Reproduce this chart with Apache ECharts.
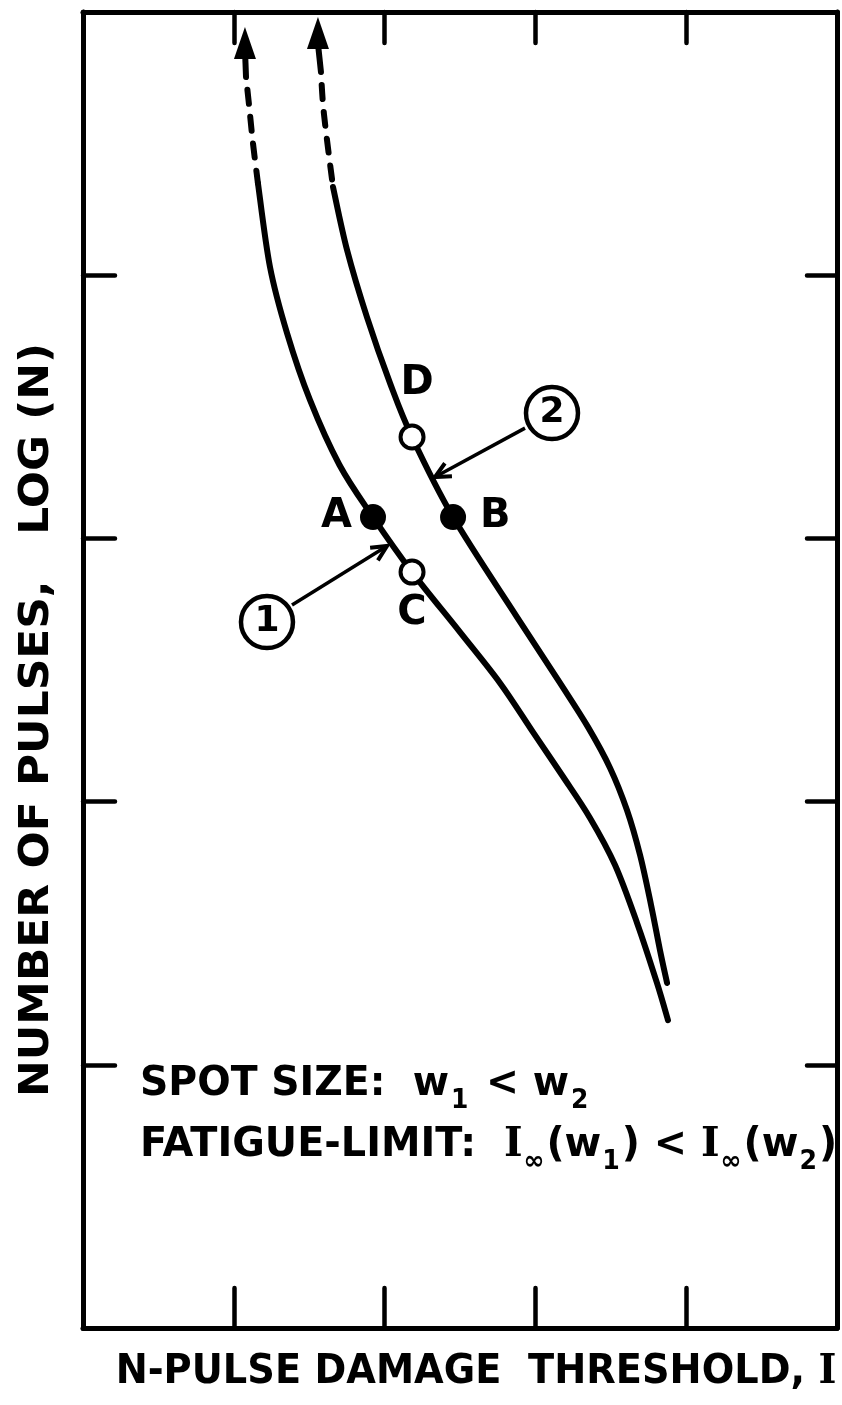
<!DOCTYPE html>
<html>
<head>
<meta charset="utf-8">
<script src="https://cdn.jsdelivr.net/npm/echarts@6/dist/echarts.min.js"></script>
<style>
  html, body { margin: 0; padding: 0; background: #fff; }
  #chart { width: 842px; height: 1405px; }
</style>
</head>
<body>
<div id="chart"></div>
<script>
// Curve 1 (spot size w1): solid section, dashed extrapolation, short lead to the arrow
const curve1Solid = [
  [1.160, 4.350], [1.240, 4.031], [1.353, 3.780], [1.505, 3.526], [1.700, 3.280],
  [1.923, 3.081], [2.182, 2.872], [2.500, 2.644], [2.765, 2.451], [2.984, 2.264],
  [3.176, 2.101], [3.362, 1.938], [3.528, 1.759], [3.674, 1.539], [3.806, 1.311],
  [3.879, 1.170]
];
const curve1Dashed = [[1.081, 4.753], [1.101, 4.647], [1.127, 4.502], [1.160, 4.350]];
const curve1Lead = [[1.081, 4.753], [1.074, 4.860]];

// Curve 2 (spot size w2)
const curve2Solid = [
  [1.658, 4.335], [1.751, 4.096], [1.883, 3.841], [2.036, 3.590], [2.182, 3.385],
  [2.454, 3.081], [2.878, 2.701], [3.163, 2.451], [3.349, 2.283], [3.495, 2.128],
  [3.607, 1.968], [3.694, 1.797], [3.767, 1.607], [3.826, 1.436], [3.873, 1.311]
];
const curve2Dashed = [[1.578, 4.772], [1.592, 4.647], [1.618, 4.514], [1.658, 4.335]];
const curve2Lead = [[1.578, 4.772], [1.558, 4.880]];

// Arrow tips at the top of both curves
const arrowTips = [[1.074, 4.943], [1.558, 4.981]];

// Marked points on the curves
const filledNames = ['A', 'B'];
const filledValues = [[1.923, 3.081], [2.454, 3.081]];
const openNames = ['C', 'D'];
const openValues = [[2.182, 2.872], [2.182, 3.385]];

// Circled curve numbers and their pointers [x0, y0, x1, y1]
const curveTags = ['1', '2'];
const tagCenters = [[1.220, 2.682], [3.110, 3.476]];
const tagPointers = [[1.386, 2.747, 2.016, 2.971], [2.931, 3.419, 2.334, 3.233]];

// Axis ranges
const xRange = [0, 5];
const yRange = [0, 5];
const tickStep = 1;

const INK = '#000';
const FONT = 'DejaVu Sans';
const CURVE_W = 6;

const chart = echarts.init(document.getElementById('chart'), null, { renderer: 'canvas' });

function frameAxis(position, tickLen) {
  const vertical = position === 'left' || position === 'right';
  return {
    type: 'value',
    position: position,
    min: vertical ? yRange[0] : xRange[0],
    max: vertical ? yRange[1] : xRange[1],
    interval: tickStep,
    axisLine: { show: true, onZero: false, lineStyle: { color: INK, width: 5, cap: 'round' } },
    axisTick: { show: true, inside: true, length: tickLen, lineStyle: { color: INK, width: 4.5, cap: 'round' } },
    axisLabel: { show: false },
    splitLine: { show: false }
  };
}

// Catmull-Rom spline through pixel points, written as cubic Bezier path data
function splinePath(px) {
  let d = 'M' + px[0][0] + ' ' + px[0][1];
  for (let i = 0; i < px.length - 1; i++) {
    const p0 = px[Math.max(i - 1, 0)];
    const p1 = px[i];
    const p2 = px[i + 1];
    const p3 = px[Math.min(i + 2, px.length - 1)];
    const c1x = p1[0] + (p2[0] - p0[0]) / 6, c1y = p1[1] + (p2[1] - p0[1]) / 6;
    const c2x = p2[0] - (p3[0] - p1[0]) / 6, c2y = p2[1] - (p3[1] - p1[1]) / 6;
    d += ' C' + c1x + ' ' + c1y + ' ' + c2x + ' ' + c2y + ' ' + p2[0] + ' ' + p2[1];
  }
  return d;
}

function curveSeries(points, dash) {
  return {
    type: 'custom',
    data: points,
    encode: { x: 0, y: 1 },
    z: 3,
    silent: true,
    renderItem: function (params, api) {
      if (params.dataIndex !== 0) return { type: 'group', children: [] };
      const px = points.map(p => api.coord(p));
      return {
        type: 'path',
        shape: { pathData: splinePath(px) },
        style: {
          stroke: INK,
          fill: 'none',
          lineWidth: CURVE_W,
          lineCap: 'round',
          lineJoin: 'round',
          lineDash: dash ? [14, 13] : null,
          lineDashOffset: dash ? 14 : 0
        }
      };
    }
  };
}

const option = {
  backgroundColor: '#fff',
  animation: false,
  grid: { left: 83, right: 5, top: 12, bottom: 77, containLabel: false },
  xAxis: [frameAxis('bottom', 40), frameAxis('top', 31)],
  yAxis: [frameAxis('left', 32), frameAxis('right', 30)],
  series: [
    curveSeries(curve1Solid, false),
    curveSeries(curve1Dashed, true),
    curveSeries(curve1Lead, false),
    curveSeries(curve2Solid, false),
    curveSeries(curve2Dashed, true),
    curveSeries(curve2Lead, false),
    {
      type: 'scatter',
      data: arrowTips,
      symbol: 'triangle',
      symbolSize: [22, 32],
      symbolOffset: [0, '50%'],
      itemStyle: { color: INK, opacity: 1 },
      z: 4,
      silent: true
    },
    {
      type: 'custom',
      data: tagPointers,
      dimensions: ['x0', 'y0', 'x1', 'y1'],
      encode: { x: [0, 2], y: [1, 3] },
      z: 4,
      silent: true,
      renderItem: function (params, api) {
        const p0 = api.coord([api.value(0), api.value(1)]);
        const p1 = api.coord([api.value(2), api.value(3)]);
        const ang = Math.atan2(p1[1] - p0[1], p1[0] - p0[0]);
        const len = 17, spread = 0.45;
        const a = [p1[0] - len * Math.cos(ang - spread), p1[1] - len * Math.sin(ang - spread)];
        const b = [p1[0] - len * Math.cos(ang + spread), p1[1] - len * Math.sin(ang + spread)];
        return {
          type: 'group',
          children: [
            { type: 'line', shape: { x1: p0[0], y1: p0[1], x2: p1[0], y2: p1[1] },
              style: { stroke: INK, lineWidth: 3.5 } },
            { type: 'polyline', shape: { points: [a, p1, b] },
              style: { stroke: INK, lineWidth: 4, fill: 'none', lineJoin: 'miter' } }
          ]
        };
      }
    },
    {
      type: 'scatter',
      data: curveTags.map((n, i) => ({ name: n, value: tagCenters[i] })),
      symbol: 'circle',
      symbolSize: 52,
      itemStyle: { color: '#fff', borderColor: INK, borderWidth: 4.5, opacity: 1 },
      label: {
        show: true, position: 'inside', formatter: p => p.name,
        fontFamily: FONT, fontSize: 36, fontWeight: 'bold', color: INK
      },
      z: 5,
      silent: true
    },
    {
      type: 'scatter',
      data: filledNames.map((n, i) => ({
        name: n, value: filledValues[i],
        label: i === 0 ? { position: 'left', distance: 8 } : { position: 'right', distance: 14 }
      })),
      symbol: 'circle',
      symbolSize: 26,
      itemStyle: { color: INK, opacity: 1 },
      label: { show: true, formatter: p => p.name, fontFamily: FONT, fontSize: 40, fontWeight: 'bold', color: INK },
      z: 6,
      silent: true
    },
    {
      type: 'scatter',
      data: openNames.map((n, i) => ({
        name: n, value: openValues[i],
        label: i === 0 ? { position: 'bottom', distance: 8 } : { position: 'top', distance: 20, offset: [5, 0] }
      })),
      symbol: 'circle',
      symbolSize: 23,
      itemStyle: { color: '#fff', borderColor: INK, borderWidth: 4, opacity: 1 },
      label: { show: true, formatter: p => p.name, fontFamily: FONT, fontSize: 40, fontWeight: 'bold', color: INK },
      z: 6,
      silent: true
    }
  ],
  graphic: [
    {
      type: 'text',
      x: 37, y: 720,
      rotation: Math.PI / 2,
      scaleX: 1.07,
      style: {
        text: 'NUMBER OF PULSES,   LOG (N)',
        font: 'bold 41px "DejaVu Sans"',
        fill: INK,
        align: 'center',
        verticalAlign: 'middle'
      }
    },
    {
      type: 'text',
      x: 476, y: 1372,
      scaleX: 0.935,
      style: {
        text: '{t|N-PULSE DAMAGE  THRESHOLD, }{s|I}',
        align: 'center',
        verticalAlign: 'middle',
        fill: INK,
        rich: {
          t: { fontFamily: FONT, fontSize: 41, fontWeight: 'bold', fill: INK },
          s: { fontFamily: 'DejaVu Serif', fontSize: 41, fontWeight: 'bold', fill: INK }
        }
      }
    },
    {
      type: 'text',
      x: 140, y: 1084,
      scaleX: 0.96,
      style: {
        text: '{t|SPOT SIZE:  w}{b|1}{t| < w}{b|2}',
        align: 'left',
        verticalAlign: 'middle',
        fill: INK,
        rich: {
          t: { fontFamily: FONT, fontSize: 41, fontWeight: 'bold', fill: INK, lineHeight: 60, verticalAlign: 'middle' },
          b: { fontFamily: FONT, fontSize: 26, fontWeight: 'bold', fill: INK, lineHeight: 26, verticalAlign: 'bottom', padding: [0, 4, 0, 2] }
        }
      }
    },
    {
      type: 'text',
      x: 140, y: 1145,
      scaleX: 0.97,
      style: {
        text: '{t|FATIGUE-LIMIT:  }{s|I}{b|∞}{t|(w}{b|1}{t|) < }{s|I}{b|∞}{t|(w}{b|2}{t|)}',
        align: 'left',
        verticalAlign: 'middle',
        fill: INK,
        rich: {
          t: { fontFamily: FONT, fontSize: 41, fontWeight: 'bold', fill: INK, lineHeight: 60, verticalAlign: 'middle' },
          s: { fontFamily: 'DejaVu Serif', fontSize: 41, fontWeight: 'bold', fill: INK, lineHeight: 60, verticalAlign: 'middle' },
          b: { fontFamily: FONT, fontSize: 26, fontWeight: 'bold', fill: INK, lineHeight: 26, verticalAlign: 'bottom', padding: [0, 2, 0, 1] }
        }
      }
    }
  ]
};

chart.setOption(option);
</script>
</body>
</html>
